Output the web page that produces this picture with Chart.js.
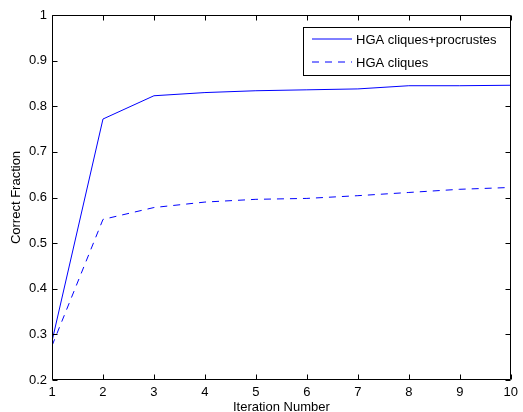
<!DOCTYPE html>
<html>
<head>
<meta charset="utf-8">
<script src="https://cdn.jsdelivr.net/npm/chart.js@4/dist/chart.umd.min.js"></script>
<style>
  html, body { margin: 0; padding: 0; background: #fff; }
  #wrap { width: 523px; height: 412px; }
</style>
</head>
<body>
<div id="wrap"><canvas id="c" width="523" height="412"></canvas></div>
<script>
// ---- data ----
const iterations = [1, 2, 3, 4, 5, 6, 7, 8, 9, 10];
const hgaCliquesProcrustes = [0.285, 0.772, 0.823, 0.830, 0.834, 0.836, 0.838, 0.845, 0.845, 0.846];
const hgaCliques = [0.275, 0.552, 0.578, 0.590, 0.596, 0.598, 0.604, 0.611, 0.618, 0.622];
const seriesLabels = ['HGA cliques+procrustes', 'HGA cliques'];
const xTicks = [1, 2, 3, 4, 5, 6, 7, 8, 9, 10];
const yTicks = [0.2, 0.3, 0.4, 0.5, 0.6, 0.7, 0.8, 0.9, 1];
const xTitle = 'Iteration Number';
const yTitle = 'Correct Fraction';

const FONT = 'Liberation Sans, Arial, Helvetica, sans-serif';
const BLUE = '#0000ff';
const DASH = [7, 6];

const framePlugin = {
  id: 'frame',
  afterDatasetsDraw(chart) {
    const ctx = chart.ctx;
    const a = chart.chartArea;
    const xs = chart.scales.x, ys = chart.scales.y;
    ctx.save();
    ctx.strokeStyle = '#000';
    ctx.lineWidth = 1;
    const L = Math.round(a.left) + 0.5, R = Math.round(a.right) - 0.5;
    const T = Math.round(a.top) + 0.5, B = Math.round(a.bottom) - 0.5;
    ctx.beginPath();
    ctx.rect(L, T, R - L, B - T);
    // inward ticks
    const tl = 5;
    xTicks.forEach(v => {
      const px = Math.round(xs.getPixelForValue(v)) + 0.5;
      ctx.moveTo(px, B); ctx.lineTo(px, B - tl);
      ctx.moveTo(px, T); ctx.lineTo(px, T + tl);
    });
    yTicks.forEach(v => {
      const py = Math.round(ys.getPixelForValue(v)) + 0.5;
      ctx.moveTo(L, py); ctx.lineTo(L + tl, py);
      ctx.moveTo(R, py); ctx.lineTo(R - tl, py);
    });
    ctx.stroke();

    // legend
    const bx = 303.5, by = 27.5, bw = 207, bh = 48;
    ctx.fillStyle = '#fff';
    ctx.fillRect(bx, by, bw, bh);
    ctx.strokeRect(bx, by, bw, bh);
    const rows = [39, 62];
    chart.data.datasets.forEach((ds, i) => {
      const y = rows[i];
      ctx.beginPath();
      ctx.strokeStyle = ds.borderColor;
      ctx.setLineDash(ds.borderDash || []);
      ctx.moveTo(312, y); ctx.lineTo(352, y);
      ctx.stroke();
      ctx.setLineDash([]);
      ctx.fillStyle = '#000';
      ctx.font = '13px ' + FONT;
      ctx.textBaseline = 'middle';
      ctx.textAlign = 'left';
      ctx.fillText(ds.label, 356, y + 1.5);
    });
    ctx.restore();
  }
};

new Chart(document.getElementById('c'), {
  type: 'line',
  data: {
    datasets: [
      {
        label: seriesLabels[0],
        data: iterations.map((x, i) => ({ x, y: hgaCliquesProcrustes[i] })),
        borderColor: BLUE, borderWidth: 1, pointRadius: 0, tension: 0, fill: false
      },
      {
        label: seriesLabels[1],
        data: iterations.map((x, i) => ({ x, y: hgaCliques[i] })),
        borderColor: BLUE, borderWidth: 1, borderDash: DASH, pointRadius: 0, tension: 0, fill: false
      }
    ]
  },
  options: {
    responsive: false,
    animation: false,
    devicePixelRatio: 1,
    layout: { padding: { top: 15, right: 8, left: 0, bottom: -2 } },
    plugins: { legend: { display: false }, tooltip: { enabled: false } },
    scales: {
      x: {
        type: 'linear', min: 1, max: 10,
        afterBuildTicks: s => { s.ticks = xTicks.map(v => ({ value: v })); },
        afterFit: s => { s.height = 34; },
        grid: { display: false, drawTicks: false },
        border: { display: false },
        ticks: { autoSkip: false, maxRotation: 0, padding: 5, color: '#000', font: { family: FONT, size: 13 } },
        title: { display: true, text: xTitle, color: '#000', font: { family: FONT, size: 13, lineHeight: 1 }, padding: { top: 0, bottom: 0 } }
      },
      y: {
        type: 'linear', min: 0.2, max: 1,
        afterBuildTicks: s => { s.ticks = yTicks.map(v => ({ value: v })); },
        afterFit: s => { s.width = 52; },
        grid: { display: false, drawTicks: false },
        border: { display: false },
        ticks: { padding: 5, color: '#000', font: { family: FONT, size: 13 },
          callback: v => String(v) },
        title: { display: true, text: yTitle, color: '#000', font: { family: FONT, size: 13, lineHeight: 1 }, padding: { top: 10, bottom: 0 } }
      }
    }
  },
  plugins: [framePlugin]
});
</script>
</body>
</html>
